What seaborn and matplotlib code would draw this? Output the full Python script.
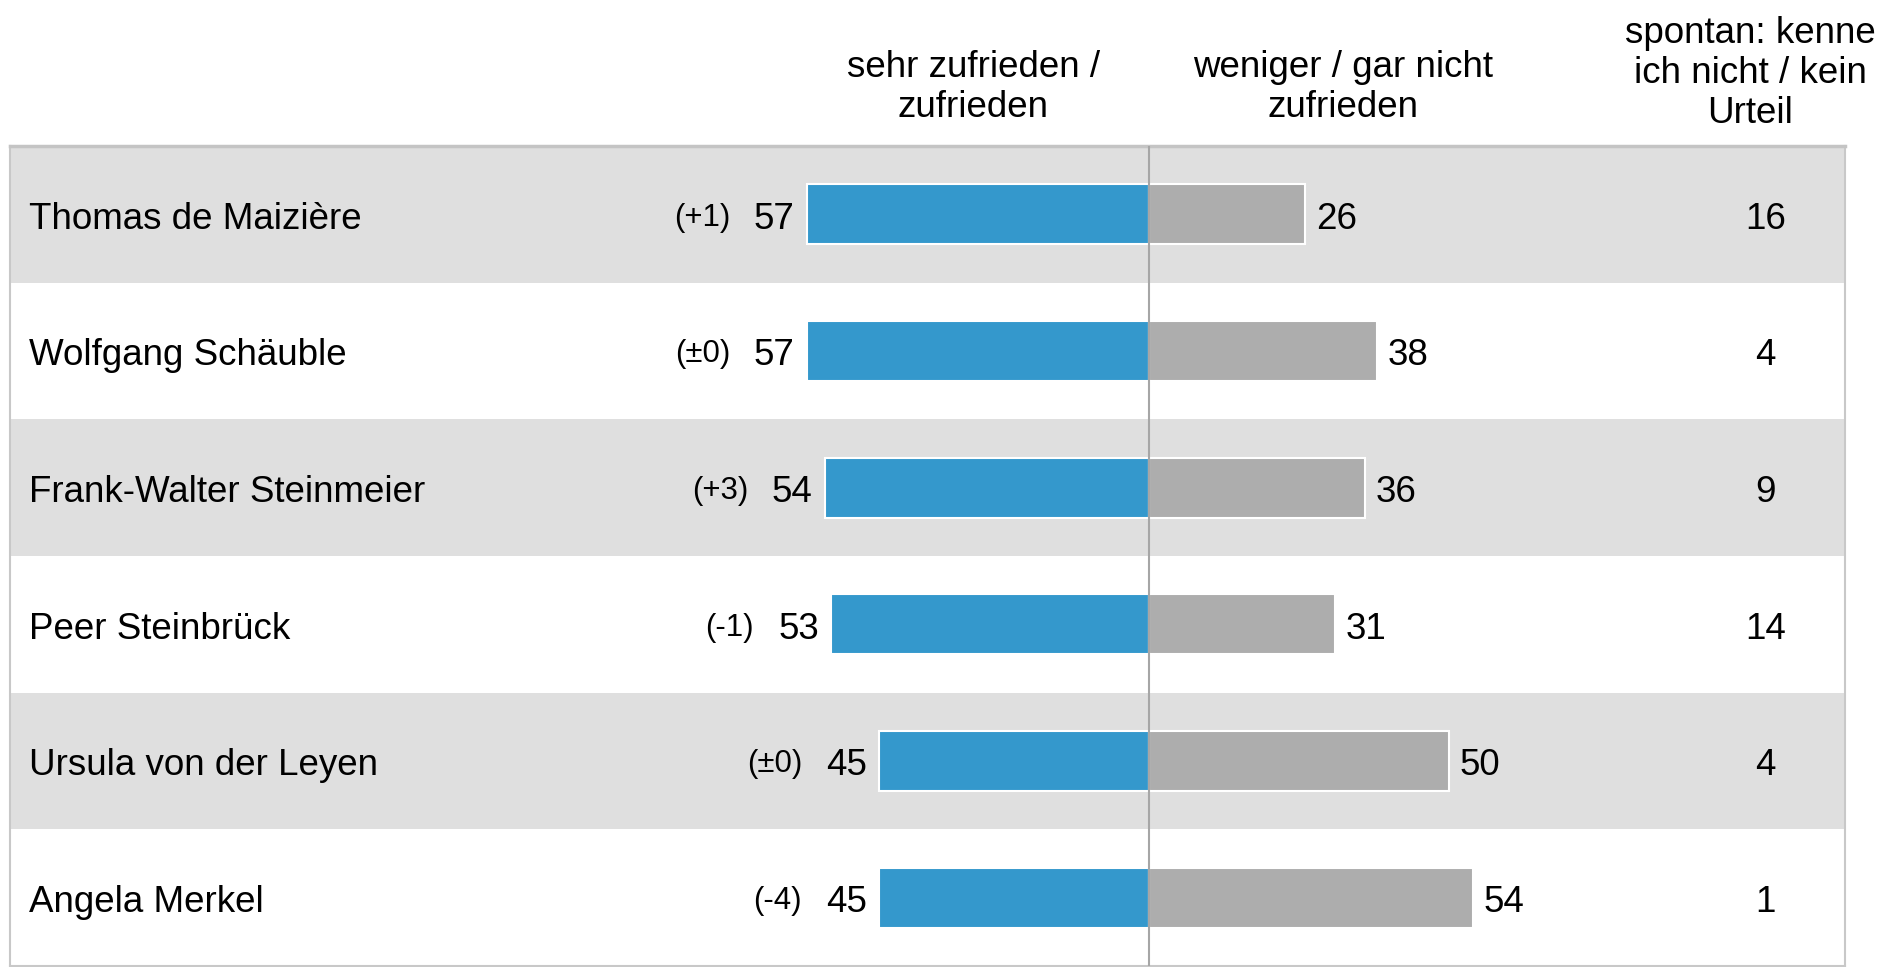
import matplotlib
matplotlib.use("Agg")
import matplotlib.pyplot as plt
import pandas as pd
import seaborn as sns

# Werte
namen = ["Thomas de Maizière", "Wolfgang Schäuble", "Frank-Walter Steinmeier",
         "Peer Steinbrück", "Ursula von der Leyen", "Angela Merkel"]
zufrieden = [57, 57, 54, 53, 45, 45]
veraenderung = ["(+1)", "(±0)", "(+3)", "(-1)", "(±0)", "(-4)"]
nicht_zufrieden = [26, 38, 36, 31, 50, 54]
kein_urteil = [16, 4, 9, 14, 4, 1]

kopf = ["sehr zufrieden /\nzufrieden", "weniger / gar nicht\nzufrieden",
        "spontan: kenne\nich nicht / kein\nUrteil"]

BLAU = "#3498cc"
GRAU = "#adadad"
ZEILE = "#dfdfdf"

sns.set_theme(style="white")
plt.rcParams['font.family'] = ['Liberation Sans', 'DejaVu Sans']
plt.rcParams['text.color'] = 'black'

df = pd.DataFrame({
    "name": namen * 2,
    "wert": [-v for v in zufrieden] + nicht_zufrieden,
    "gruppe": ["zufrieden"] * len(namen) + ["nicht"] * len(namen),
})

fig = plt.figure(figsize=(18.8, 9.67), dpi=100)
ax = fig.add_axes([10 / 1880, 1 / 967, 1835 / 1880, 820 / 967])

# Zeilenhintergrund abwechselnd grau / weiss
for i in range(0, len(namen), 2):
    ax.axhspan(i - 0.5, i + 0.5, color=ZEILE, lw=0, zorder=0)

sns.barplot(data=df, x="wert", y="name", hue="gruppe", orient="h",
            palette={"zufrieden": BLAU, "nicht": GRAU}, dodge=False,
            saturation=1, width=0.44, edgecolor="white", linewidth=1.5,
            legend=False, ax=ax, zorder=2)

ax.axvline(0, color="#a6a6a6", lw=1.5, zorder=4)

ax.set_xlim(-189.8, 116)
ax.set_ylim(len(namen) - 0.5, -0.5)
ax.set_xticks([])
ax.set_yticks([])
ax.set_xlabel("")
ax.set_ylabel("")

for side in ["left", "right", "bottom"]:
    ax.spines[side].set_color("#c8c8c8")
    ax.spines[side].set_linewidth(1.5)
ax.spines["top"].set_color("#c4c4c4")
ax.spines["top"].set_linewidth(2.5)

gross = 26.5
klein = 22.5
dy = 0.035
for i, name in enumerate(namen):
    y = i + dy
    ax.text(-186.7, y, name, ha="left", va="center", fontsize=gross)
    ax.text(-zufrieden[i] - 2, y, str(zufrieden[i]), ha="right", va="center", fontsize=gross)
    ax.text(-zufrieden[i] - 12.8, y - 0.01, veraenderung[i], ha="right", va="center", fontsize=klein)
    ax.text(nicht_zufrieden[i] + 1.8, y, str(nicht_zufrieden[i]), ha="left", va="center", fontsize=gross)
    ax.text(102.7, y, str(kein_urteil[i]), ha="center", va="center", fontsize=gross)

ax.text(-29.3, -0.93, kopf[0], ha="center", va="center", fontsize=gross, clip_on=False)
ax.text(32.3, -0.93, kopf[1], ha="center", va="center", fontsize=gross, clip_on=False)
ax.text(100.2, -1.03, kopf[2], ha="center", va="center", fontsize=gross, clip_on=False)

fig.savefig("out.png", dpi=100)
